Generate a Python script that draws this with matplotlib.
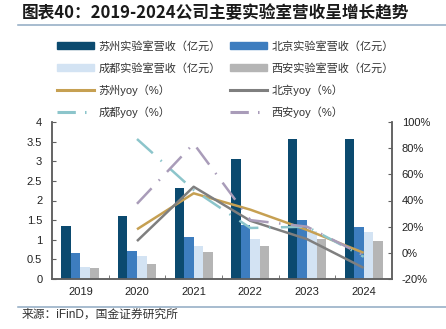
import numpy as np
import matplotlib
matplotlib.use("Agg")
import matplotlib.pyplot as plt
from matplotlib.lines import Line2D
from matplotlib.patches import Patch

plt.rcParams['font.family'] = ['Liberation Sans', 'Noto Sans CJK SC', 'DejaVu Sans']

years = ['2019', '2020', '2021', '2022', '2023', '2024']
suzhou_rev = [1.35, 1.60, 2.32, 3.05, 3.57, 3.57]
beijing_rev = [0.66, 0.72, 1.08, 1.38, 1.50, 1.32]
chengdu_rev = [0.30, 0.58, 0.85, 1.02, 1.22, 1.19]
xian_rev = [0.27, 0.37, 0.68, 0.85, 1.01, 0.97]

suzhou_yoy = [np.nan, 18.0, 45.5, 33.0, 17.5, 0.0]
beijing_yoy = [np.nan, 9.0, 50.5, 24.5, 10.5, -11.5]
chengdu_yoy = [np.nan, 87.0, 48.0, 19.0, 20.0, -3.0]
xian_yoy = [np.nan, 37.5, 83.5, 25.0, 20.0, -2.0]

bar_labels = ['苏州实验室营收（亿元）', '北京实验室营收（亿元）',
              '成都实验室营收（亿元）', '西安实验室营收（亿元）']
line_labels = ['苏州yoy（%）', '北京yoy（%）', '成都yoy（%）', '西安yoy（%）']
bar_colors = ['#0b4a6f', '#3d7dbf', '#d3e3f3', '#b5b5b5']
line_colors = ['#c6a052', '#7f7f7f', '#8cc5cb', '#a99cb9']

fig = plt.figure(figsize=(4.46, 3.29), dpi=100)
ax = fig.add_axes([52 / 446, 50 / 329, 340 / 446, 157 / 329])
ax2 = ax.twinx()

x = np.arange(len(years))
w = 0.168
for i, (vals, c) in enumerate(zip([suzhou_rev, beijing_rev, chengdu_rev, xian_rev], bar_colors)):
    ax.bar(x + (i - 1.5) * w, vals, width=w, color=c, zorder=2)

dashdot = (0, (8.5, 4.2, 0.6, 4.2))
styles = ['-', '-', dashdot, dashdot]
for vals, c, ls in zip([suzhou_yoy, beijing_yoy, chengdu_yoy, xian_yoy], line_colors, styles):
    ax2.plot(x, vals, color=c, lw=1.8, linestyle=ls, solid_capstyle='butt')

ax.set_xlim(-0.5, 5.5)
ax.set_ylim(0, 4)
ax.set_yticks(np.arange(0, 4.01, 0.5))
ax.set_yticklabels(['0', '0.5', '1', '1.5', '2', '2.5', '3', '3.5', '4'])
ax2.set_ylim(-20, 100)
ax2.set_yticks(np.arange(-20, 101, 20))
ax2.set_yticklabels([f'{v}%' for v in range(-20, 101, 20)])
ax.set_xticks(x)
ax.set_xticklabels(years)
ax.set_xticks(np.arange(0.5, 5, 1), minor=True)

for a in (ax, ax2):
    a.spines['top'].set_visible(False)
    for s in ('left', 'right', 'bottom'):
        a.spines[s].set_color('#606060')
        a.spines[s].set_linewidth(1.1)
ax.tick_params(axis='x', which='major', length=0, labelsize=8, pad=6, colors='#222222')
ax.tick_params(axis='x', which='minor', length=3, direction='in', color='#606060')
ax.tick_params(axis='y', length=3, direction='in', labelsize=8, colors='#222222', color='#606060', pad=7)
ax2.tick_params(axis='y', length=3, direction='in', labelsize=8, colors='#222222', color='#606060', pad=7)
for t in ax.get_yticklabels() + ax2.get_yticklabels():
    t.set_color('#222222')

# legend, filled column by column
handles = [Patch(color=bar_colors[0]), Patch(color=bar_colors[2]),
           Line2D([], [], color=line_colors[0], lw=2.2),
           Line2D([], [], color=line_colors[2], lw=2.2, linestyle=(0, (6, 3, 0.5, 3))),
           Patch(color=bar_colors[1]), Patch(color=bar_colors[3]),
           Line2D([], [], color=line_colors[1], lw=2.2),
           Line2D([], [], color=line_colors[3], lw=2.2, linestyle=(0, (6, 3, 0.5, 3)))]
labels = [bar_labels[0], bar_labels[2], line_labels[0], line_labels[2],
          bar_labels[1], bar_labels[3], line_labels[1], line_labels[3]]
leg = fig.legend(handles, labels, ncol=2, loc='upper left',
                 bbox_to_anchor=(57 / 446, 1 - 41 / 329), frameon=False,
                 fontsize=8, handlelength=3.3, handleheight=0.6, handletextpad=0.4,
                 columnspacing=0.9, labelspacing=0.97, borderpad=0, borderaxespad=0)
for t in leg.get_texts():
    t.set_color('#333333')

fig.text(22 / 446, 1 - 13 / 329, '图表40：2019-2024公司主要实验室营收呈增长趋势',
         fontsize=12, fontweight='bold', color='#1a1a1a', va='center',
         family=['Noto Sans CJK SC'])
fig.add_artist(Line2D([18 / 446, 1], [1 - 25 / 329, 1 - 25 / 329], color='#8fa9c2', lw=1.1))
fig.add_artist(Line2D([18 / 446, 1], [1 - 307 / 329, 1 - 307 / 329], color='#8fa9c2', lw=1.1))
fig.text(22 / 446, 1 - 315 / 329, '来源：iFinD，国金证券研究所', fontsize=8.5,
         color='#333333', va='center')

fig.savefig('out.png', dpi=100)
